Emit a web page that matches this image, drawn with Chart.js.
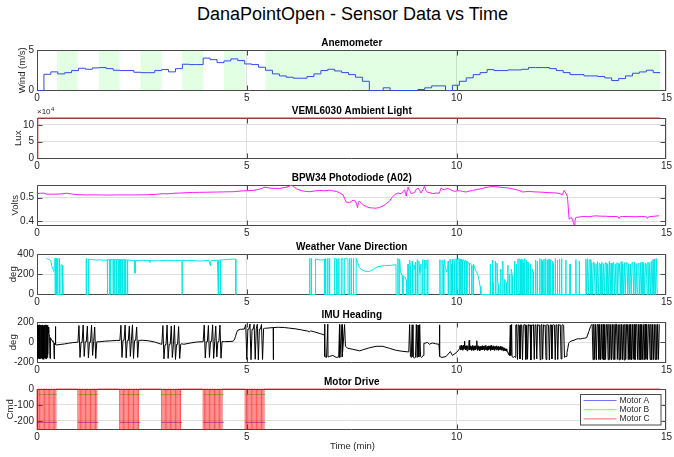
<!DOCTYPE html>
<html><head><meta charset="utf-8">
<script src="https://cdn.jsdelivr.net/npm/chart.js@4.4.1/dist/chart.umd.min.js"></script>
<style>
html,body{margin:0;padding:0;background:#fff;}
body{width:674px;height:457px;position:relative;overflow:hidden;font-family:"Liberation Sans",Arial,Helvetica,sans-serif;}
canvas{position:absolute;left:0;}
#mainTitle{position:absolute;left:37px;width:631px;top:4px;text-align:center;font-size:18px;color:#000;white-space:nowrap;}
#xlabel{position:absolute;left:37px;width:631px;top:440px;text-align:center;font-size:9.5px;color:#262626;}
</style></head><body>
<div id="mainTitle">DanaPointOpen - Sensor Data vs Time</div>
<canvas id="c0"></canvas><canvas id="c1"></canvas><canvas id="c2"></canvas>
<canvas id="c3"></canvas><canvas id="c4"></canvas><canvas id="c5"></canvas>
<div id="xlabel">Time (min)</div>
<script>
// ---------------- DATA ----------------
const xTicks = [0, 5, 10, 15];

// Anemometer (m/s), one value per ~9.9 s sample, drawn as stairs
const anemoDt = 0.165;
const anemoVals = [
 0,2.0,2.3,2.05,2.2,2.46,2.75,2.62,2.79,2.83,
 2.7,2.5,2.46,2.46,2.25,2.2,2.2,2.46,2.58,2.3,
 2.7,3.24,3.2,3.2,4.0,3.81,3.44,3.65,3.9,3.69,
 3.28,3.2,2.87,2.5,2.05,1.8,1.64,1.52,1.52,1.72,
 2.05,2.46,2.62,2.41,2.21,1.96,1.64,1.14,0,0,
 0.33,0,0,0,0,0.12,0.33,0.57,0.57,0,
 0.65,1.14,1.56,1.96,2.21,2.58,2.46,2.46,2.54,2.54,
 2.62,2.83,2.83,2.83,2.7,2.46,2.21,1.96,1.96,1.8,
 1.8,1.72,1.55,1.23,1.47,1.8,2.13,2.29,2.5,2.21];
// motor-off periods (green shading)
const anemoBands = [[0.475,0.975],[1.47,1.97],[2.465,2.97],[3.46,3.96],[4.455,4.96],[5.445,14.85]];

// VEML6030 lux
const vemlPts = [[0,0],[0.02,120000],[14.85,120000]];

// BPW34 photodiode volts
const pdPts = [
[0,0.5165],[0.08,0.518],[0.16,0.519],[0.24,0.514],[0.32,0.5145],[0.40,0.514],[0.55,0.515],[0.71,0.518],[0.87,0.514],[1.0,0.512],
[1.19,0.511],[1.35,0.5115],[1.51,0.511],[1.7,0.5105],[1.90,0.511],[2.1,0.5112],[2.30,0.511],[2.5,0.5115],[2.69,0.5124],[2.85,0.514],
[3.01,0.5165],[3.1,0.5155],[3.25,0.518],[3.4,0.519],[3.57,0.5206],[3.7,0.5215],[3.88,0.522],[4.05,0.5225],[4.28,0.5233],[4.45,0.524],
[4.68,0.5247],[4.83,0.5274],[4.99,0.5288],[5.15,0.530],[5.31,0.5357],[5.43,0.5439],[5.55,0.540],[5.65,0.539],[5.78,0.5384],[5.94,0.5439],
[6.0,0.547],[6.06,0.5521],[6.12,0.546],[6.18,0.537],[6.30,0.529],[6.40,0.526],[6.50,0.5247],[6.62,0.528],[6.74,0.530],[6.85,0.5285],
[6.97,0.531],[7.05,0.528],[7.13,0.526],[7.21,0.52],[7.29,0.512],[7.37,0.481],[7.45,0.478],[7.53,0.489],[7.59,0.485],[7.62,0.47],
[7.64,0.457],[7.66,0.48],[7.68,0.485],[7.76,0.471],[7.84,0.462],[7.92,0.457],[8.0,0.456],[8.08,0.455],[8.16,0.458],[8.24,0.464],
[8.32,0.474],[8.40,0.485],[8.46,0.5],[8.52,0.512],[8.6,0.519],[8.68,0.5165],[8.72,0.525],[8.76,0.533],[8.8,0.5055],[8.82,0.53],
[8.84,0.544],[8.88,0.53],[8.92,0.5165],[9.0,0.522],[9.04,0.535],[9.08,0.540],[9.12,0.53],[9.15,0.519],[9.2,0.535],[9.23,0.547],
[9.27,0.53],[9.31,0.522],[9.37,0.52],[9.43,0.5165],[9.5,0.519],[9.59,0.519],[9.61,0.53],[9.63,0.540],[9.67,0.535],[9.71,0.533],
[9.77,0.538],[9.83,0.5357],[9.89,0.53],[9.95,0.526],[10.0,0.528],[10.06,0.529],[10.14,0.526],[10.22,0.5233],[10.3,0.527],[10.38,0.530],
[10.46,0.533],[10.54,0.5357],[10.62,0.539],[10.70,0.5425],[10.78,0.545],[10.85,0.547],[10.93,0.546],[11.01,0.544],[11.13,0.542],[11.25,0.540],
[11.37,0.535],[11.49,0.530],[11.57,0.5233],[11.65,0.525],[11.73,0.526],[11.85,0.524],[11.96,0.5233],[12.08,0.522],[12.2,0.5206],[12.32,0.52],
[12.44,0.518],[12.52,0.512],[12.56,0.530],[12.6,0.519],[12.64,0.5055],[12.66,0.46],[12.68,0.409],[12.74,0.416],[12.77,0.40],[12.8,0.385],
[12.82,0.40],[12.84,0.416],[12.92,0.418],[13.0,0.420],[13.08,0.42],[13.15,0.419],[13.23,0.421],[13.31,0.423],[13.45,0.421],[13.55,0.421],
[13.63,0.420],[13.75,0.42],[13.85,0.419],[13.87,0.412],[13.9,0.419],[13.95,0.420],[14.1,0.42],[14.26,0.419],[14.4,0.42],[14.52,0.419],
[14.54,0.412],[14.58,0.419],[14.7,0.421],[14.82,0.423]];

// Weather vane direction (deg); null = no reading
const vanePts = [
[0.22,null],[0.222,357],[0.25,350],[0.3,345],[0.33,330],[0.36,270],[0.4,228],[0.42,240],[0.428,357],[0.432,0],[0.44,357],[0.46,357],[0.463,0],
[0.49,0],[0.493,357],[0.497,0],[0.53,0],[0.533,357],[0.537,0],[0.57,0],[0.573,295],[0.6,290],[0.61,0],[0.615,290],[0.625,0],
[0.9,null],[1.17,0],[1.172,357],[1.178,0],[1.225,0],[1.228,350],[1.3,345],[1.4,340],[1.5,342],[1.6,338],[1.675,340],[1.678,0],[1.688,345],[1.735,345],[1.738,0],
[1.745,345],[1.81,345],[1.813,0],[1.82,345],[1.85,345],[1.853,0],[1.858,345],[1.895,345],[1.898,0],[1.905,350],[1.95,345],[1.953,0],[1.96,345],
[1.995,345],[1.998,0],[2.003,345],[2.035,340],[2.038,0],[2.043,345],[2.075,345],[2.078,0],[2.083,345],[2.11,345],[2.113,0],[2.118,345],[2.155,340],
[2.158,0],[2.163,340],[2.33,335],[2.335,210],[2.34,335],[2.5,338],[2.68,335],[2.69,318],[2.7,335],[2.9,332],[3.1,338],[3.3,334],[3.455,338],[3.458,0],
[3.462,338],[3.7,335],[3.9,330],[4.1,338],[4.13,285],[4.15,335],[4.3,338],[4.32,0],[4.325,338],[4.365,340],[4.368,0],[4.372,340],[4.5,345],[4.6,348],
[4.735,350],[4.738,0],
[5.6,null],[6.495,0],[6.498,357],[6.502,0],[6.535,0],[6.538,357],[6.542,0],[6.635,0],[6.638,350],[6.7,345],[6.75,340],[6.85,345],[6.853,0],[6.875,0],[6.878,357],
[6.882,0],[6.925,0],[6.928,357],[6.932,0],[6.97,0],[6.972,357],[6.976,0],
[7.09,0],[7.092,357],[7.145,350],[7.148,0],[7.19,0],[7.192,357],[7.196,0],[7.25,0],[7.252,355],[7.29,350],[7.293,0],[7.33,0],[7.332,357],[7.41,350],
[7.413,0],[7.45,0],[7.452,357],[7.456,0],[7.49,0],[7.492,357],[7.496,0],[7.54,0],[7.542,357],[7.546,0],[7.604,0],[7.606,357],[7.685,262],[7.76,238],
[7.84,228],[7.92,228],[8.0,245],[8.12,275],[8.28,285],[8.44,288],[8.555,295],[8.558,0],
[8.6,0],[8.602,357],[8.606,0],[8.64,0],[8.642,350],[8.66,230],[8.7,190],[8.72,0],[8.725,180],[8.78,170],[8.8,140],[8.805,0],[8.84,0],[8.842,300],
[8.846,0],[8.88,0],[8.882,340],[8.9,260],[8.903,0],[8.94,0],[8.942,330],[8.946,0],[8.98,0],[8.982,290],[9.0,250],[9.02,320],[9.023,0],[9.06,0],
[9.062,345],[9.066,0],[9.1,0],[9.102,330],[9.12,210],[9.15,300],[9.153,0],[9.19,0],[9.192,345],[9.196,0],[9.23,0],[9.232,340],[9.25,260],[9.27,340],
[9.273,0],[9.31,0],[9.312,345],[9.316,0],
[9.45,null],[9.6,0],[9.602,345],[9.606,0],[9.65,0],[9.652,340],[9.68,300],[9.683,0],[9.7,0],[9.702,345],[9.73,280],[9.76,220],[9.79,260],[9.8,330],[9.803,0],
[9.84,0],[9.842,350],[9.87,300],[9.873,0],[9.9,0],[9.902,350],[9.906,0],[9.94,0],[9.942,345],[9.946,0],[9.98,0],[9.982,355],
[10.0,350],[10.003,0],[10.03,0],[10.032,355],[10.06,350],[10.063,0],[10.07,350],[10.1,345],[10.103,0],[10.11,345],[10.14,340],[10.143,0],[10.15,345],
[10.19,330],[10.193,0],[10.2,340],[10.24,325],[10.243,0],[10.25,330],[10.3,300],[10.303,0],[10.31,310],[10.36,290],[10.363,0],[10.4,0],[10.402,300],
[10.45,240],[10.5,200],[10.53,150],[10.56,80],[10.58,0],
[10.8,0],[10.802,300],[10.806,0],[10.85,0],[10.852,340],[10.86,200],[10.87,120],[10.873,0],[10.92,0],[10.922,330],[10.926,0],[10.96,0],[10.962,310],
[10.98,120],[11.0,90],[11.003,0],[11.05,0],[11.052,250],[11.056,0],[11.1,0],[11.102,330],[11.106,0],[11.14,0],[11.142,150],[11.18,120],[11.183,0],
[11.22,0],[11.222,290],[11.226,0],[11.26,0],[11.262,200],[11.266,0],[11.3,0],[11.302,250],[11.33,180],[11.333,0],[11.38,0],[11.382,330],[11.386,0],
[11.42,0],[11.422,300],[11.426,0],[11.46,0],[11.462,350],[11.466,0],[11.49,0],[11.492,355],[11.52,340],[11.523,0],[11.54,0],[11.542,350],[11.546,0],
[11.57,0],[11.572,345],[11.6,300],[11.603,0],[11.62,0],[11.622,355],[11.626,0],[11.66,0],[11.662,340],[11.666,0],[11.7,0],[11.702,320],[11.706,0],
[11.76,0],[11.762,300],[11.766,0],[11.8,0],[11.802,250],[11.83,220],[11.833,0],[11.88,0],[11.882,340],[11.886,0],[11.92,0],[11.922,330],[11.926,0],
[11.98,0],[11.982,355],[11.986,0],[12.02,0],[12.022,345],[12.05,330],[12.053,0],[12.08,0],[12.082,350],[12.086,0],[12.12,0],[12.122,355],[12.126,0],
[12.16,0],[12.162,340],[12.166,0],[12.2,0],[12.202,350],[12.206,0],[12.24,0],[12.242,345],[12.246,0],[12.28,0],[12.282,330],[12.3,310],[12.303,0],
[12.35,0],[12.352,355],[12.356,0],[12.4,0],[12.402,340],[12.406,0],[12.45,0],[12.452,350],[12.456,0],[12.5,0],[12.502,355],[12.506,0],
[12.6,0],[12.602,340],[12.606,0],[12.7,0],[12.702,300],[12.706,0],[12.84,0],[12.842,345],[12.846,0],[12.92,0],[12.922,330],[12.926,0],[13.079,0]];
// dense burst, samples every 0.02 min from 13.08
const vaneBurstStart = 13.08, vaneBurstDt = 0.02;
const vaneBurst = [
 350,0,355,0,340,345,0,310,0,320, 315,0,305,0,325,0,310,300,0,320,
 0,305,0,315,310,0,300,0,330,0, 310,0,305,320,0,300,0,315,0,310,
 305,0,325,0,300,0,315,0,310,320, 0,305,0,300,0,315,310,0,320,0,
 305,0,300,310,0,315,0,320,0,305, 0,310,300,0,320,0,315,0,330,0,
 345,0,350,0,355,0];

// IMU heading (deg): slow segments as [t,v]
const imuPts = [
[0.28,90],[0.30,60],[0.31,-160],[0.32,45],[0.34,30],[0.36,15],[0.38,5],[0.40,-5],[0.41,-165],[0.415,-10],[0.43,-18],[0.44,155],[0.445,-22],[0.46,-25],[0.475,-27],
[0.55,-22],[0.65,-17],[0.75,-10],[0.85,-4],[0.95,0],
[1.5,5],[1.6,10],[1.75,14],[1.9,18],
[2.5,20],[2.65,15],[2.8,3],[2.95,-18],
[3.5,-20],[3.65,-8],[3.8,2],[3.94,5],
[4.47,6],[4.6,8],[4.67,10],[4.7,22],[4.73,55],[4.76,100],[4.79,120],[4.85,128],[4.94,130],
[5.45,138],[5.55,142],[5.63,145],[5.632,-172],[5.636,145],[5.75,148],[5.9,145],[6.0,140],[6.15,133],[6.3,122],[6.45,110],[6.5,104],[6.52,112],
[6.6,104],[6.75,85],[6.85,72],[6.855,178],[6.86,-140],[6.9,-150],[6.93,178],[6.935,-145],[6.97,-140],[7.05,-130],[7.13,-150],[7.19,-145],
[7.21,175],[7.215,-150],[7.27,175],[7.275,-145],[7.33,175],[7.35,-40],[7.41,-60],[7.53,-70],[7.69,-85],[7.76,-75],[7.92,-55],[8.08,-40],
[8.24,-40],[8.40,-60],[8.56,-80],[8.72,-90],[8.84,-95],
[9.25,-10],[9.3,0],[9.35,-20],[9.42,-7],[9.5,-15],[9.58,-20],[9.59,172],[9.6,-140],[9.65,-150],[9.75,-140],[9.85,-92],[9.9,-130],[10.0,-100],[10.05,-75],
[11.26,-125],[11.28,170],[11.29,-130],[11.31,175],[11.32,-140],[11.35,-150],[11.38,-140],[11.4,-150],
[12.61,-140],[12.63,-100],[12.65,-60],[12.67,-10],[12.7,6],[12.75,15],[12.8,20],[12.85,30],[12.9,35],[12.95,33],[13.0,38],[13.05,40],
[13.1,46],[13.15,105],[13.19,155],[13.22,175]];
// IMU fast bursts: start time, sample period, samples
const imuBurstStart = [0, 0.975, 1.975, 2.975, 3.96, 4.95, 8.86, 10.07, 11.41, 13.23];
const imuBurstDt = [0.01, 0.025, 0.025, 0.025, 0.025, 0.025, 0.02, 0.01, 0.02, 0.02];
const imuBurst1 = [-160,170,-165,168,-158,172,-166,165,-160,170,-150,168,-165,172,-162,160,-168,170,-155,166,-160,172,-164,168,-150,170,-120,150];
const imuBurst2 = [0,165,-150,0,0,170,-140,5,5,160,-155,0,0,170,-130,5,150,-160,5,5];
const imuBurst3 = [18,168,-150,20,20,170,-155,15,15,160,-140,20,172,-160,18,18,150,-150,20,18];
const imuBurst4 = [-20,165,-165,-25,-25,170,-160,-20,-20,160,-150,-25,168,-170,-22,-22,155,-160,-20,-15];
const imuBurst5 = [5,170,-155,5,5,165,-150,8,8,172,-160,5,160,-145,6,6,170,-158,8,6];
const imuBurst6 = [130,175,-170,130,130,180,-172,128,128,176,-168,132,178,-174,130,130,175,-170,135,138];
const imuBurst7 = [-95,175,-140,-150,172,-145,-150,-155,-148,175,-150,170,-145,175,-140,-150,-145,-130,-10];
const imuBurst8 = [
 -60,-35,-75,-45,-30,-70,-40,-80,-45,-30, -70,-45,10,-65,-40,-75,-35,-70,-85,-45,
 -35,-70,-40,20,-75,-45,-35,-70,-45,-80, -40,-30,-70,-45,-80,-40,-70,-35,-75,-45,
 -65,15,-40,-80,-45,-35,-70,-45,-85,-50, -40,-75,-45,-70,-35,-75,-40,-70,-45,-80,
 -35,-70,-50,-30,-75,-45,-80,-40,-70,-35, -75,-45,-65,-35,-80,-50,-30,-70,-45,-75,
 -40,-70,-35,-80,-45,-65,-40,-75,-50,-35, -70,-45,-80,-40,-65,-50,-75,-40,-70,-45,
 -80,-50,-70,-45,-85,-60,-75,-55,-80,-70, -85,-65,-90,-75,-95,-100,-110,-120,-125,-130];
const imuBurst9 = [
 170,175,-170,172,168,-165,175,170,-172,168, 175,172,-170,170,-168,175,165,172,-175,170,
 168,175,-170,172,170,-165,175,168,172,-172, 170,175,-168,172,165,170,-170,175,172,168,
 -175,170,172,-165,168,175,170,-172,172,168, -170,175,170,172,-165,170,175,168,-150,-140];
const imuBurst10 = [
 175,-172,178,-170,176,-174,175,175,-170,177, -172,176,-168,178,-175,174,-170,176,176,-172,
 178,-170,175,-174,177,-168,176,-172,178,178, -170,175,-174,176,-170,177,-172,175,-175,178,
 -170,176,176,-172,175,-170,178,-174,176,-168, 177,-172,175,175,-170,178,-174,176,-172,177,
 -170,175,-175,178,-168,176,-172,176,175,-170, 178,-174,176,-172,177,-170,175,-172,178,-170, 176];
const imuBursts = [imuBurst1,imuBurst2,imuBurst3,imuBurst4,imuBurst5,imuBurst6,imuBurst7,imuBurst8,imuBurst9,imuBurst10];

// Motor drive commands
const motorBlocks = [[0,0.475],[0.975,1.47],[1.97,2.465],[2.97,3.46],[3.96,4.455],[4.96,5.445]];
const motorALevel = -210;
const motorBLevel = -35;
const motorCDt = 0.03;
const motorCPattern = [-255,0,-255,0,-255,0,-255,0,-255,0,-255,0,-255,0,-255,0];
const motorEnd = 14.85;

// ---------------- BUILD ----------------
const FONT = '"Liberation Sans", Arial, Helvetica, sans-serif';
Chart.defaults.font.family = FONT;
const toXY = pts => pts.map(p => ({x: p[0], y: p[1]}));
const fromSamples = (t0, dt, vals) => vals.map((v, i) => [t0 + i * dt, v]);

const anemoPts = anemoVals.map((v, k) => [k * anemoDt, v]);
anemoPts.push([anemoVals.length * anemoDt, anemoVals[anemoVals.length - 1]]);

const vaneAll = vanePts.concat(fromSamples(vaneBurstStart, vaneBurstDt, vaneBurst));

let imuAll = imuPts.slice();
imuBursts.forEach((b, i) => { imuAll = imuAll.concat(fromSamples(imuBurstStart[i], imuBurstDt[i], b)); });
imuAll.sort((a, b) => a[0] - b[0]);

function motorLevelPts(level) {
  const p = [];
  motorBlocks.forEach(([s, e]) => { p.push([s, level], [e, level], [e + 0.001, null]); });
  return p;
}
const motorCPts = [];
motorBlocks.forEach(([s, e]) => {
  motorCPts.push([s, 0]);
  motorCPattern.forEach((v, i) => { const t = s + i * motorCDt; if (t < e) motorCPts.push([t, v]); });
  motorCPts.push([e, 0]);
});
motorCPts.push([motorEnd, 0]);

// ---------------- PLUGIN ----------------
const extras = {};
const framePlugin = {
  id: 'frame',
  beforeDatasetsDraw(chart) {
    const ex = extras[chart.canvas.id] || {};
    const {ctx, chartArea: a, scales: {x, y}} = chart;
    ctx.save();
    if (ex.bands) {
      ctx.fillStyle = ex.bandColor;
      ex.bands.forEach(([s, e]) => {
        const x1 = x.getPixelForValue(s), x2 = x.getPixelForValue(e);
        ctx.fillRect(x1, a.top, x2 - x1, a.bottom - a.top);
      });
    }
    const L = Math.round(a.left) + 0.5, R = Math.round(a.right) - 0.5;
    const T = Math.round(a.top) + 0.5, B = Math.round(a.bottom) - 0.5;
    ctx.strokeStyle = '#4a4a4a'; ctx.lineWidth = 1;
    ctx.beginPath(); ctx.rect(L, T, R - L, B - T);
    const tl = 5;
    x.ticks.forEach(t => {
      const px = Math.min(R, Math.max(L, Math.round(x.getPixelForValue(t.value)) + 0.5));
      ctx.moveTo(px, B); ctx.lineTo(px, B - tl); ctx.moveTo(px, T); ctx.lineTo(px, T + tl);
    });
    y.ticks.forEach(t => {
      const py = Math.min(B, Math.max(T, Math.round(y.getPixelForValue(t.value)) + 0.5));
      ctx.moveTo(L, py); ctx.lineTo(L + tl, py); ctx.moveTo(R, py); ctx.lineTo(R - tl, py);
    });
    ctx.stroke();
    ctx.fillStyle = '#000'; ctx.font = 'bold 10px ' + FONT;
    ctx.textAlign = 'center'; ctx.textBaseline = 'middle';
    ctx.fillText(ex.title, (a.left + a.right) / 2, a.top - 6.5);
    if (ex.exponent) {
      ctx.fillStyle = '#262626'; ctx.textAlign = 'left'; ctx.textBaseline = 'alphabetic';
      ctx.font = '8px ' + FONT;
      ctx.fillText('\u00D710', a.left, a.top - 4);
      const w = ctx.measureText('\u00D710').width;
      ctx.font = '6px ' + FONT;
      ctx.fillText(ex.exponent, a.left + w + 0.5, a.top - 7.5);
    }
    ctx.restore();
  },
  afterDatasetsDraw(chart) {
    const ex = extras[chart.canvas.id] || {};
    if (!ex.legend) return;
    const {ctx, chartArea: a} = chart;
    const w = 81.5, h = 31.5;
    const lx = Math.round(a.right - 4.7 - w), ly = Math.round(a.bottom - 4.3 - h);
    ctx.save();
    ctx.fillStyle = '#fff'; ctx.fillRect(lx, ly, w, h);
    ctx.strokeStyle = '#4a4a4a'; ctx.lineWidth = 1;
    ctx.strokeRect(lx + 0.5, ly + 0.5, w - 1, h - 1);
    ctx.font = '8.5px ' + FONT; ctx.textAlign = 'left'; ctx.textBaseline = 'middle';
    chart.data.datasets.forEach((ds, i) => {
      const yy = ly + 6.5 + i * 9.2;
      ctx.strokeStyle = ds.legendColor; ctx.lineWidth = 1;
      ctx.beginPath(); ctx.moveTo(lx + 3.5, yy); ctx.lineTo(lx + 36.5, yy); ctx.stroke();
      ctx.fillStyle = '#262626'; ctx.fillText(ds.label, lx + 39.5, yy);
    });
    ctx.restore();
  }
};
Chart.register(framePlugin);

function makeChart(id, plotTop, cfg) {
  const cv = document.getElementById(id);
  cv.width = 674; cv.height = 75; cv.style.top = (plotTop - 14) + 'px';
  extras[id] = cfg.extras;
  return new Chart(cv, {
    type: 'line',
    data: {datasets: cfg.datasets},
    options: {
      responsive: false, animation: false, devicePixelRatio: 1, events: [],
      spanGaps: false,
      layout: {padding: {top: 14, right: 6, left: 0, bottom: 0}},
      plugins: {legend: {display: false}, tooltip: {enabled: false}},
      elements: {point: {radius: 0}, line: {borderWidth: 1, tension: 0}},
      scales: {
        x: {
          type: 'linear', min: 0, max: 15,
          afterBuildTicks: s => { s.ticks = xTicks.map(v => ({value: v})); },
          afterFit: s => { s.height = 20.5; },
          grid: {color: '#dedede', drawTicks: false}, border: {display: false},
          ticks: {font: {size: 10}, color: '#262626', padding: 2, maxRotation: 0, autoSkip: false}
        },
        y: {
          type: 'linear', min: cfg.yMin, max: cfg.yMax,
          afterBuildTicks: s => { s.ticks = cfg.yTicks.map(v => ({value: v})); },
          afterFit: s => { s.width = 37; },
          grid: {color: '#dedede', drawTicks: false}, border: {display: false},
          ticks: {font: {size: 10}, color: '#262626', padding: 3, autoSkip: false,
                  callback: cfg.fmt || (v => String(v))},
          title: {display: true, text: cfg.ylabel, font: {size: 9.5}, color: '#262626',
                  padding: {top: cfg.ylPad, bottom: 0}}
        }
      }
    }
  });
}

makeChart('c0', 50, {
  yMin: 0, yMax: 5, yTicks: [0, 5], ylabel: 'Wind (m/s)', ylPad: 16.3,
  extras: {title: 'Anemometer', bands: anemoBands, bandColor: 'rgba(0,255,0,0.11)'},
  datasets: [{label: 'Wind', data: toXY(anemoPts), borderColor: '#2f4be8', stepped: true, clip: 2}]
});
makeChart('c1', 118, {
  yMin: 0, yMax: 120000, yTicks: [0, 50000, 100000], ylabel: 'Lux', ylPad: 13.1,
  fmt: v => String(v / 10000),
  extras: {title: 'VEML6030 Ambient Light', exponent: '4'},
  datasets: [{label: 'Lux', data: toXY(vemlPts), borderColor: '#e03030', clip: 2}]
});
makeChart('c2', 185, {
  yMin: 0.382, yMax: 0.553, yTicks: [0.4, 0.5], ylabel: 'Volts', ylPad: 10.1,
  fmt: v => v.toFixed(1),
  extras: {title: 'BPW34 Photodiode (A02)'},
  datasets: [{label: 'Volts', data: toXY(pdPts), borderColor: '#ff1aff', clip: 2}]
});
makeChart('c3', 254, {
  yMin: 0, yMax: 400, yTicks: [0, 200, 400], ylabel: 'deg', ylPad: 7.3,
  extras: {title: 'Weather Vane Direction'},
  datasets: [{label: 'Vane', data: toXY(vaneAll), borderColor: '#00e8e8', clip: 2}]
});
makeChart('c4', 322, {
  yMin: -200, yMax: 200, yTicks: [-200, 0, 200], ylabel: 'deg', ylPad: 7.3,
  extras: {title: 'IMU Heading'},
  datasets: [{label: 'Heading', data: toXY(imuAll), borderColor: '#000000', clip: 2}]
});
makeChart('c5', 389, {
  yMin: -255, yMax: 0, yTicks: [-200, -100, 0], ylabel: 'Cmd', ylPad: 5.1,
  extras: {title: 'Motor Drive', legend: true},
  datasets: [
    {label: 'Motor A', data: toXY(motorLevelPts(motorALevel)), borderColor: 'rgba(0,0,255,0.55)', legendColor: 'rgba(0,0,255,0.55)', order: 3, clip: 2},
    {label: 'Motor B', data: toXY(motorLevelPts(motorBLevel)), borderColor: 'rgba(0,255,0,0.6)', legendColor: 'rgba(0,255,0,0.6)', order: 2, clip: 2},
    {label: 'Motor C', data: toXY(motorCPts), borderColor: 'rgba(255,0,0,0.65)', legendColor: 'rgba(255,0,0,0.6)', stepped: true, order: 1, clip: 2}
  ]
});
</script>
</body></html>
